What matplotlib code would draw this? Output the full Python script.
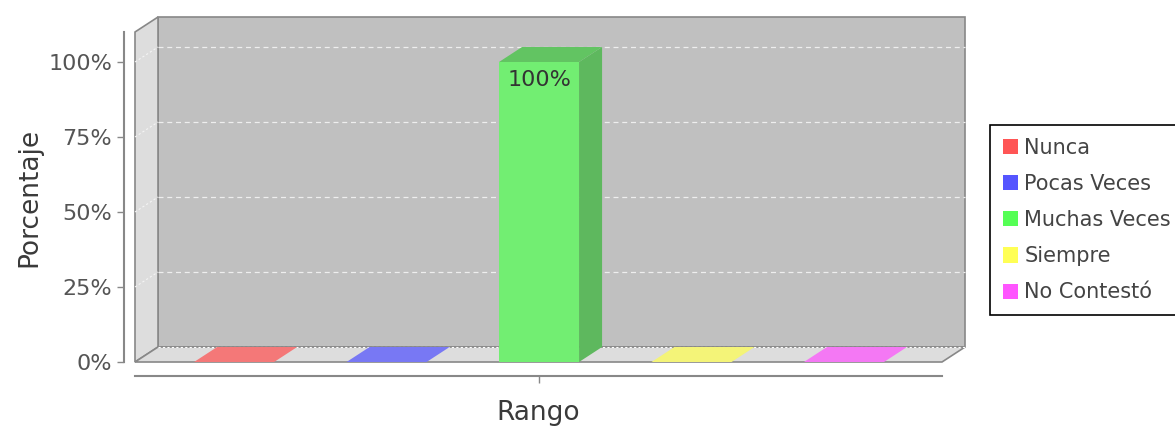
import matplotlib
matplotlib.use("Agg")
import matplotlib.pyplot as plt
from matplotlib.patches import Polygon, Patch

categories = ['Nunca', 'Pocas Veces', 'Muchas Veces', 'Siempre', 'No Contestó']
values = [0, 0, 100, 0, 0]
front_colors = ['#f47a7a', '#7a7af4', '#72ee72', '#f4f47a', '#f47af4']
side_colors = ['#d06060', '#6060d0', '#5eb85e', '#d0d060', '#d060d0']
top_colors = ['#f47878', '#7878f4', '#62c462', '#f4f478', '#f478f4']
legend_colors = ['#ff5555', '#5555ff', '#55ff55', '#ffff55', '#ff55ff']
yticks = [0, 25, 50, 75, 100]
ytick_labels = ['0%', '25%', '50%', '75%', '100%']

fig = plt.figure(figsize=(11.75, 4.28), dpi=100)
ax = fig.add_axes([135 / 1175, 66 / 428, 807 / 1175, 330 / 428])

x0, x1 = -0.65, 4.643
ymax = 110
dx, dy = 0.151, 5
w = 0.525

# walls
wall_edge = '#888888'
ax.add_patch(Polygon([(x0 + dx, dy), (x1 + dx, dy), (x1 + dx, ymax + dy), (x0 + dx, ymax + dy)],
                     closed=True, facecolor='#c0c0c0', edgecolor=wall_edge, lw=1.2,
                     clip_on=False, zorder=1))
ax.add_patch(Polygon([(x0, 0), (x0 + dx, dy), (x0 + dx, ymax + dy), (x0, ymax)],
                     closed=True, facecolor='#dddddd', edgecolor=wall_edge, lw=1.2,
                     clip_on=False, zorder=1))
ax.add_patch(Polygon([(x0, 0), (x1, 0), (x1 + dx, dy), (x0 + dx, dy)],
                     closed=True, facecolor='#dddddd', edgecolor=wall_edge, lw=1.2,
                     clip_on=False, zorder=1))

# gridlines on the back wall and left wall
for t in yticks:
    if t == 0:
        ax.plot([x0 + dx, x1 + dx], [dy, dy], color='white', ls=(0, (2, 2)), lw=0.8,
                clip_on=False, zorder=2)
        continue
    ax.plot([x0 + dx, x1 + dx], [t + dy, t + dy], color='#eeeeee', ls=(0, (4, 3)), lw=0.9,
            clip_on=False, zorder=2)
    ax.plot([x0, x0 + dx], [t, t + dy], color='#f4f4f4', ls=(0, (2, 2)), lw=0.8,
            clip_on=False, zorder=2)

# bars
for i, v in enumerate(values):
    l, r = i - w / 2, i + w / 2
    if v > 0:
        ax.add_patch(Polygon([(r, 0), (r + dx, dy), (r + dx, v + dy), (r, v)],
                             closed=True, facecolor=side_colors[i], edgecolor='none',
                             clip_on=False, zorder=3))
        ax.add_patch(Polygon([(l, 0), (r, 0), (r, v), (l, v)],
                             closed=True, facecolor=front_colors[i], edgecolor='none',
                             clip_on=False, zorder=4))
    ax.add_patch(Polygon([(l, v), (r, v), (r + dx, v + dy), (l + dx, v + dy)],
                         closed=True, facecolor=top_colors[i], edgecolor='none',
                         clip_on=False, zorder=4))
    if v > 0:
        ax.text(i, v - 2.5, '%d%%' % v, ha='center', va='top', fontsize=16,
                color='#333333', zorder=5)

ax.set_xlim(x0, x1)
ax.set_ylim(0, ymax)
ax.set_facecolor('none')
for s in ['top', 'right']:
    ax.spines[s].set_visible(False)
ax.spines['left'].set_position(('outward', 8))
ax.spines['bottom'].set_position(('outward', 10))
ax.spines['left'].set_color('#888888')
ax.spines['bottom'].set_color('#888888')
ax.spines['left'].set_linewidth(1.5)
ax.spines['bottom'].set_linewidth(1.5)

ax.set_yticks(yticks)
ax.set_yticklabels(ytick_labels)
ax.set_xticks([2])
ax.set_xticklabels([''])
ax.tick_params(axis='both', colors='#888888', labelcolor='#555555', labelsize=16,
               length=5, width=1)
ax.set_ylabel('Porcentaje', fontsize=19, color='#3a3a3a', labelpad=4)
ax.set_xlabel('Rango', fontsize=19, color='#3a3a3a', labelpad=9)

handles = [Patch(facecolor=c, edgecolor='none') for c in legend_colors]
fig.legend(handles, categories, loc='upper left', bbox_to_anchor=(990 / 1175, 1 - 125 / 428),
           fontsize=15, frameon=True, fancybox=False, edgecolor='black', framealpha=1,
           handlelength=0.75, handleheight=0.75, handletextpad=0.3, labelspacing=0.78,
           borderpad=0.6, borderaxespad=0)
fig.legends[0].get_frame().set_linewidth(1.2)
for t in fig.legends[0].get_texts():
    t.set_color('#444444')

fig.savefig('out.png', dpi=100)
